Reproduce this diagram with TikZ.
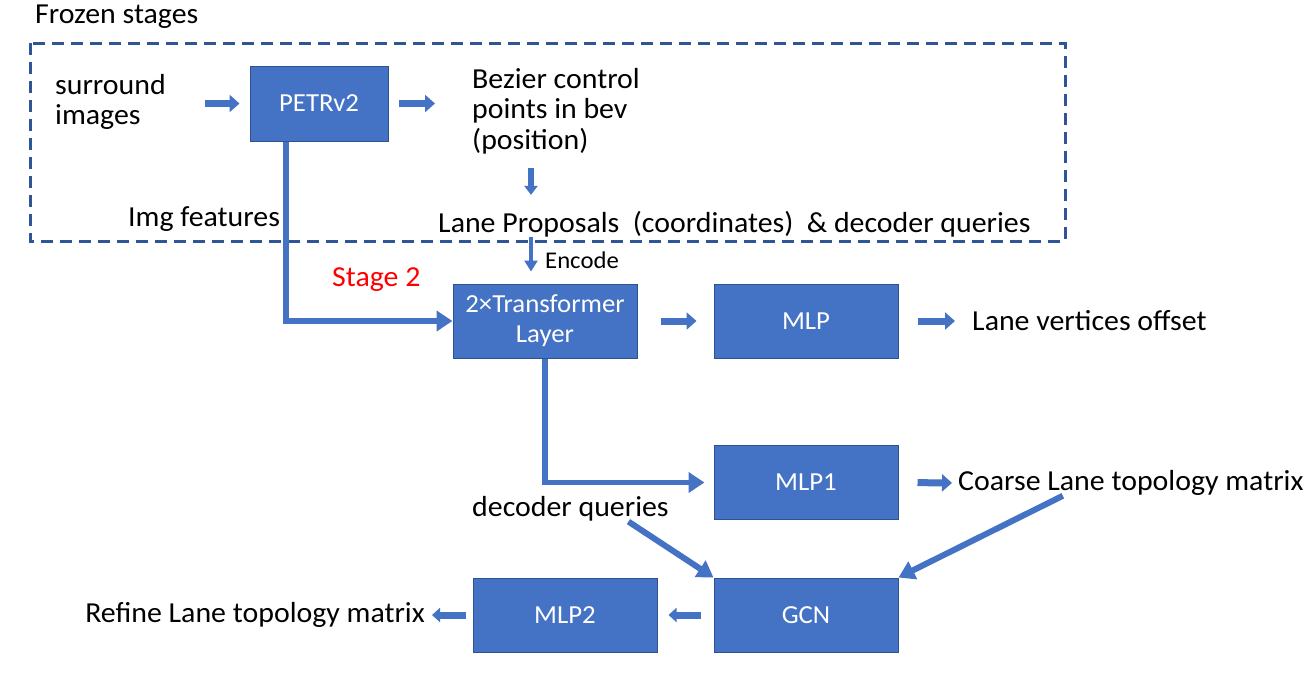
\documentclass[tikz,border=0pt]{standalone}
\usepackage{fontspec}
\setmainfont{Carlito}[FakeStretch=1.03]
\usepackage{xcolor}
\usetikzlibrary{arrows.meta, positioning}
\definecolor{boxblue}{HTML}{4472C4}
\definecolor{boxedge}{HTML}{2F528F}
\definecolor{frameblue}{HTML}{2F5597}

\begin{document}
\begin{tikzpicture}[x=1pt, y=-1pt,
  txt/.style={inner sep=0pt, anchor=west, align=left, font=\fontsize{29}{30.5}\selectfont},
  block/.style={draw=boxedge, line width=1pt, fill=boxblue, text=white,
    minimum width=184pt, minimum height=74pt, font=\fontsize{26}{30}\selectfont, align=center},
  blockarrow/.style={draw=boxblue, line width=7pt, -{Triangle[length=10pt, width=17pt]}},
  connector/.style={draw=boxblue, line width=5.5pt, -{Triangle[length=16pt, width=20pt]}},
  slant/.style={draw=boxblue, line width=6pt, -{Triangle[length=16pt, width=19pt]}}]
\useasboundingbox (0,0) rectangle (1312,680);

% Frozen part
\node[txt] (frozen) at (35,17) {Frozen stages};
\draw[frameblue, line width=3pt, dash pattern=on 12pt off 7pt] (30,43) rectangle (1065,241);
\node[txt] (surr) at (55,102) {surround\\images};
\node[block, minimum width=138pt, minimum height=75pt] (petr) at (319,103.5) {PETRv2};
\node[txt] (bez) at (472,111) {Bezier control\\points in bev\\(position)};
\node[txt] (lane) at (438,224) {Lane Proposals~~(coordinates)~~\& decoder queries};
\node[txt] (img) at (128,219) {Img features};

% Stage 2
\node[txt, font=\fontsize{24}{28}\selectfont] (enc) at (545,260) {Encode};
\node[txt, text=red] (stage) at (332,280) {Stage 2};
\node[block] (trans) at (545,321) {2×Transformer\\Layer};
\node[block] (mlp) at (806,321) {MLP};
\node[txt] (offset) at (972,321) {Lane vertices offset};
\node[block] (mlpa) at (806,482.5) {MLP1};
\node[txt] (coarse) at (958,483) {Coarse Lane topology matrix};
\node[txt] (dq) at (472,509) {decoder queries};
\node[block] (gcn) at (806,615) {GCN};
\node[block] (mlpb) at (565,615) {MLP2};
\node[txt, anchor=east] (refine) at (425,615) {Refine Lane topology matrix};

% Arrows
\draw[blockarrow, shorten >=10pt] ([xshift=-45pt]petr.west) -- (petr.west);
\draw[blockarrow, shorten <=10pt, shorten >=37pt] (petr.east) -- (petr.east -| bez.west);
\draw[blockarrow, line width=6pt, -{Triangle[length=9pt, width=13pt]}, shorten <=14pt, shorten >=16pt]
  ([xshift=59pt]bez.south west) -- ([xshift=93pt]lane.north west);
\draw[connector, line width=4.5pt, -{Triangle[length=11pt, width=13pt]}, shorten >=12pt]
  ([xshift=-14pt]trans.north |- lane.south) -- ([xshift=-14pt]trans.north);
\draw[connector] ([xshift=-33pt]petr.south) |- (trans.west);
\draw[blockarrow, shorten <=23pt, shorten >=17pt] (trans.east) -- (mlp.west);
\draw[blockarrow, shorten <=19pt, shorten >=17pt] (mlp.east) -- (offset.west);
\draw[connector, shorten >=9pt] (trans.south) |- (mlpa.west);
\draw[blockarrow, shorten <=19pt, shorten >=6pt] (mlpa.east) -- (coarse.west);
\draw[slant] ([xshift=58pt]dq.south) -- (gcn.north west);
\draw[slant] ([xshift=-68pt]coarse.south) -- (gcn.north east);
\draw[blockarrow, line width=7pt, -{Triangle[length=8pt, width=14pt]}, shorten <=13pt, shorten >=11pt]
  (gcn.west) -- (mlpb.east);
\draw[blockarrow, line width=7pt, -{Triangle[length=8pt, width=14pt]}, shorten <=7pt, shorten >=7pt]
  (mlpb.west) -- (refine.east);
\end{tikzpicture}
\end{document}
